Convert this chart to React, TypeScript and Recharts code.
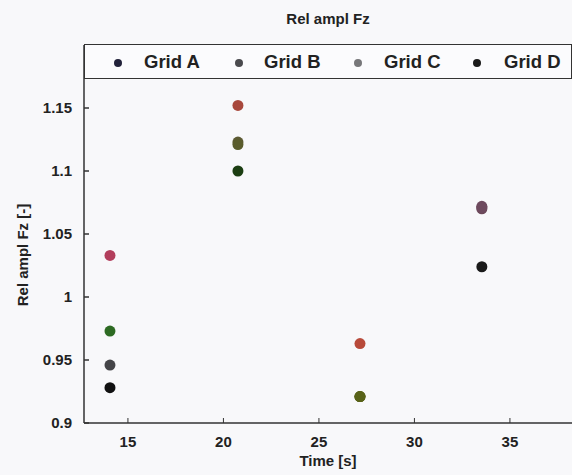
import React from 'react';
import { ScatterChart, Scatter, XAxis, YAxis, Cell } from 'recharts';

const seriesNames = ['Grid A', 'Grid B', 'Grid C', 'Grid D'];
const legendColors = ['#22223a', '#4a4a4e', '#77777a', '#1a1a1a'];
const times = [14.06, 20.76, 27.15, 33.53];

const gridA = [1.033, 1.152, 0.963, 1.072];
const gridB = [0.973, 1.123, 0.921, 1.07];
const gridC = [0.946, 1.121, 0.921, 1.071];
const gridD = [0.928, 1.1, 0.921, 1.024];

const colorsA = ['#b23e5c', '#a8483c', '#b84a3a', '#6e4a5e'];
const colorsB = ['#2d6a22', '#5c5a32', '#586218', '#6c4858'];
const colorsC = ['#444448', '#5a5c2c', '#586218', '#6e4a5e'];
const colorsD = ['#111111', '#1c3e12', '#586218', '#1a1a1a'];

const xTicks = [15, 20, 25, 30, 35];
const yTicks = [0.9, 0.95, 1, 1.05, 1.1, 1.15];

const allValues = [gridA, gridB, gridC, gridD];
const allColors = [colorsA, colorsB, colorsC, colorsD];

const font = '"Liberation Sans", Arial, sans-serif';

const YTick = (props: any) => {
  const { x, y, payload } = props;
  return (
    <g>
      <line x1={84} x2={89} y1={y} y2={y} stroke="#333" strokeWidth={1.5} />
      <text x={x - 4} y={y} dy={5} textAnchor="end" fontSize={15} fontWeight="bold" fill="#222" fontFamily={font}>
        {payload.value}
      </text>
    </g>
  );
};

const XTick = (props: any) => {
  const { x, payload } = props;
  return (
    <g>
      <line x1={x} x2={x} y1={423} y2={418} stroke="#333" strokeWidth={1} />
      <text x={x} y={447} textAnchor="middle" fontSize={15} fontWeight="bold" fill="#222" fontFamily={font}>
        {payload.value}
      </text>
    </g>
  );
};

const Dot = (props: any) => <circle cx={props.cx} cy={props.cy} r={5.5} fill={props.fill} />;

const LegendBox = () => (
  <div
    style={{
      position: 'absolute',
      left: 84,
      top: 44,
      width: 486,
      height: 33,
      border: '1.5px solid #333',
      background: '#fbfbfd',
      fontFamily: font,
      fontWeight: 'bold',
      fontSize: 18.5,
      lineHeight: '21px',
      color: '#222',
      zIndex: 2,
    }}
  >
    {seriesNames.map((n, i) => (
      <React.Fragment key={n}>
        <span
          style={{
            position: 'absolute',
            left: [29, 150, 269, 388][i],
            top: 14,
            width: 8,
            height: 8,
            borderRadius: 4,
            background: legendColors[i],
          }}
        />
        <span style={{ position: 'absolute', left: [59, 179, 299, 419][i], top: 6 }}>{n}</span>
      </React.Fragment>
    ))}
  </div>
);

export default function App() {
  const data = allValues.map((vals) => vals.map((v, i) => ({ x: times[i], y: v })));
  return (
    <div style={{ position: 'absolute', left: 0, top: 0, width: 572, height: 475, background: '#f8f8fa', overflow: 'hidden' }}>
      <div style={{ position: 'absolute', top: 10, left: 0, width: 656, textAlign: 'center', fontFamily: font, fontWeight: 'bold', fontSize: 15, color: '#222' }}>
        Rel ampl Fz
      </div>
      <div style={{ position: 'absolute', top: 452, left: 0, width: 656, textAlign: 'center', fontFamily: font, fontWeight: 'bold', fontSize: 15, color: '#222' }}>
        Time [s]
      </div>
      <div
        style={{
          position: 'absolute',
          left: 22,
          top: 255,
          transform: 'translate(-50%, -50%) rotate(-90deg)',
          whiteSpace: 'nowrap',
          fontFamily: font,
          fontWeight: 'bold',
          fontSize: 15,
          color: '#222',
        }}
      >
        Rel ampl Fz [-]
      </div>
      <LegendBox />
      <ScatterChart width={572} height={475} margin={{ top: 45, right: 0, left: 0, bottom: 0 }}>
        <XAxis
          type="number"
          dataKey="x"
          domain={[12.7, 38.25]}
          ticks={xTicks}
          tick={<XTick />}
          tickLine={false}
          axisLine={{ stroke: '#333', strokeWidth: 1.5 }}
          height={52}
          allowDataOverflow
        />
        <YAxis
          type="number"
          dataKey="y"
          domain={[0.9, 1.2]}
          ticks={yTicks}
          tick={<YTick />}
          tickLine={false}
          axisLine={{ stroke: '#333', strokeWidth: 1.5 }}
          width={84}
          allowDataOverflow
        />
        {data.map((d, si) => (
          <Scatter key={seriesNames[si]} name={seriesNames[si]} data={d} fill={legendColors[si]} shape={<Dot />} isAnimationActive={false}>
            {d.map((_, i) => (
              <Cell key={i} fill={allColors[si][i]} />
            ))}
          </Scatter>
        ))}
      </ScatterChart>
    </div>
  );
}
